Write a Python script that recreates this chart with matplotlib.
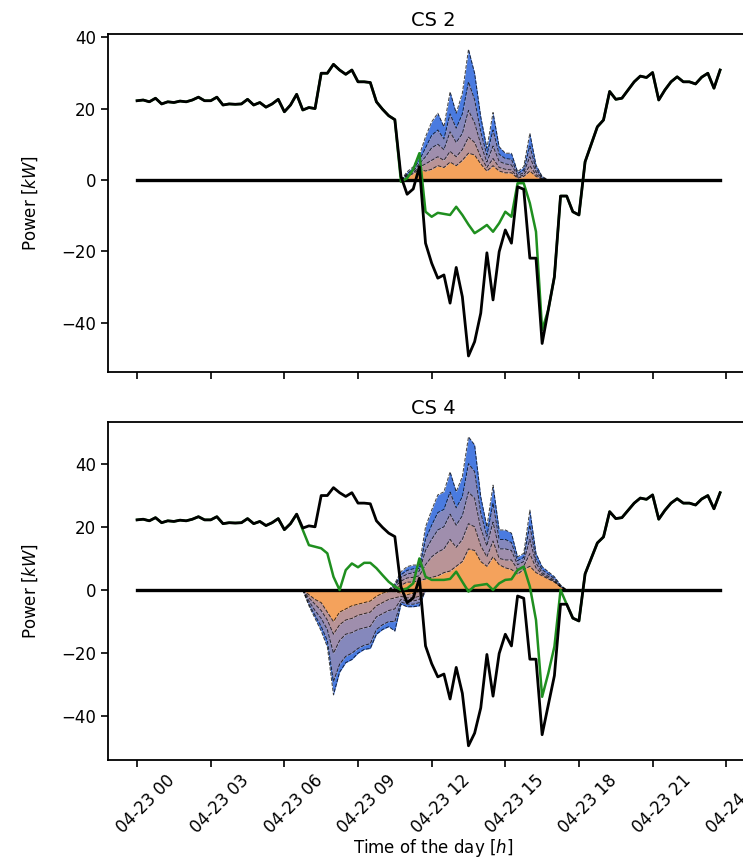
import numpy as np
import pandas as pd
import matplotlib
matplotlib.use('Agg')
import matplotlib.pyplot as plt
import matplotlib.dates as mdates
import matplotlib.transforms as mtransforms
from matplotlib.colors import LinearSegmentedColormap

# 15 min resolution, one day
times = pd.date_range('2019-04-23 00:00', periods=96, freq='15min')

# net load of the site [kW] (black)
net_load = [22.2, 22.4, 21.9, 22.9, 21.3, 21.9, 21.7, 22.1, 21.9, 22.4,
            23.2, 22.2, 22.2, 23.2, 21.0, 21.3, 21.2, 21.3, 22.6, 21.0,
            21.7, 20.4, 21.3, 22.6, 19.1, 21.0, 24.0, 19.6, 20.3, 20.0,
            29.9, 29.9, 32.4, 30.8, 29.6, 30.8, 27.5, 27.5, 27.3, 21.9,
            19.8, 18.0, 16.9, 1.0, -4.0, -2.5, 3.7, -17.7, -23.3, -27.5,
            -26.6, -34.5, -24.5, -32.7, -49.3, -45.3, -37.3, -20.4, -33.6, -20.1,
            -14.0, -17.7, -1.9, -2.6, -21.9, -21.9, -45.8, -36.4, -27.1, -4.5,
            -4.5, -8.9, -9.8, 5.1, 10.0, 14.9, 16.8, 24.8, 22.6, 22.9,
            25.2, 27.5, 29.1, 28.7, 30.1, 22.4, 25.2, 27.5, 28.9, 27.5,
            27.5, 26.9, 28.8, 29.9, 25.7, 30.8]

# net load with charging (green), only where it differs from the black one
cs2_green_start = 43
cs2_green = [-0.5, 0.5, 3.0, 7.5, -8.9, -10.3, -9.2, -9.5, -9.8, -7.5,
             -9.8, -12.5, -14.9, -13.8, -12.6, -14.5, -12.1, -8.9, -10.3, -0.9,
             -0.9, -6.5, -14.5, -42.0]
cs4_green_start = 27
cs4_green = [19.0, 14.2, 13.7, 13.2, 11.6, 4.2, 0.0, 6.3, 8.4, 7.2,
             8.6, 8.6, 6.9, 4.7, 2.6, 1.1, 0.0, 0.5, 2.1, 10.0,
             4.2, 3.2, 3.2, 3.2, 3.5, 5.8, 2.6, -0.5, 1.3, 1.6,
             1.9, 0.0, 2.1, 3.2, 3.4, 6.3, 7.4, 1.1, -9.5, -33.8,
             -26.4, -17.9, 0.0]

# charging power quantiles, median -> outer (q50, q65, q80, q90, q95)
cs2_pos_start = 43
cs2_q50 = [0, 1.0, 1.8, 3.0, 2.5, 3.0, 4.0, 3.5, 5.0, 4.0, 5.5, 7.5, 7.0, 4.5, 2.5, 4.0, 2.5, 2.0, 2.0, 0.5, 1.0, 2.5, 1.0, 0.2, 0]
cs2_q65 = [0, 1.2, 2.1, 3.6, 4.5, 5.5, 6.5, 5.5, 8.0, 6.5, 8.5, 12.0, 10.5, 6.5, 3.5, 6.0, 3.5, 3.0, 2.8, 0.8, 1.4, 4.0, 1.5, 0.3, 0]
cs2_q80 = [0, 1.5, 2.5, 4.5, 6.5, 9.0, 10.0, 8.5, 13.5, 10.5, 13.0, 19.5, 16.0, 10.0, 5.0, 9.5, 5.2, 4.5, 4.2, 1.3, 2.0, 6.5, 2.3, 0.5, 0]
cs2_q90 = [0, 1.8, 3.0, 5.5, 9.0, 12.5, 14.0, 11.5, 18.5, 14.5, 18.5, 27.5, 22.5, 13.5, 7.0, 14.0, 7.2, 6.0, 5.8, 1.8, 2.8, 9.5, 3.2, 0.7, 0]
cs2_q95 = [0, 2.3, 3.7, 7.0, 12.1, 16.3, 18.7, 14.9, 24.7, 18.7, 24.3, 36.6, 29.9, 17.7, 8.9, 18.9, 9.3, 7.5, 7.5, 2.3, 3.7, 13.1, 4.2, 1.0, 0]

cs4_pos_start = 41
cs4_q50 = [0, 0.5, 1.5, 2.5, 2.5, 3.0, 3.5, 4.0, 4.5, 5.5, 6.0, 7.5, 9.0, 13.0, 12.5, 9.0, 7.5, 10.5, 8.0, 7.0, 6.5, 5.0, 6.5, 7.5, 5.5, 4.5, 3.5, 2.5, 1.0, 0]
cs4_q65 = [0, 1.0, 2.8, 3.8, 4.0, 4.5, 8.0, 10.5, 12.0, 13.0, 16.0, 13.5, 16.0, 21.0, 20.0, 14.0, 10.5, 15.5, 10.0, 9.5, 9.5, 6.5, 7.5, 11.5, 7.0, 5.0, 3.8, 2.7, 1.0, 0]
cs4_q80 = [0, 1.4, 4.0, 5.0, 5.5, 6.0, 12.5, 16.0, 19.0, 20.0, 24.0, 20.5, 23.5, 31.0, 29.0, 19.5, 14.0, 21.5, 13.0, 13.0, 12.5, 8.0, 9.0, 16.0, 8.5, 5.5, 4.3, 3.0, 1.1, 0]
cs4_q90 = [0, 1.7, 4.8, 6.2, 6.7, 6.8, 16.0, 20.5, 24.5, 25.5, 31.0, 26.0, 29.5, 40.0, 37.5, 24.5, 17.0, 27.5, 16.0, 16.0, 15.0, 9.3, 10.3, 20.5, 9.8, 6.4, 5.0, 3.6, 1.3, 0]
cs4_q95 = [0, 2.1, 5.8, 7.4, 7.9, 7.9, 20.0, 25.3, 30.1, 31.1, 37.4, 31.1, 35.9, 48.5, 45.9, 29.5, 20.0, 33.2, 19.0, 19.0, 18.0, 10.5, 11.6, 25.3, 11.6, 7.4, 5.8, 4.2, 1.6, 0]

# discharging quantiles (negative side), median -> outer (q50, q35, q20, q10, q05)
cs4_neg_start = 27
cs4_n50 = [0, -1.5, -3, -4, -7, -10, -7, -6, -5, -4.5, -4, -3.5, -2, -1, -0.5, -0.5, -1, -1.5, -1, -0.5, 0]
cs4_n35 = [0, -2.5, -4.5, -6.5, -9.5, -14, -11, -9.5, -9, -8, -7.5, -7, -5, -4, -3, -2.5, -2, -2.5, -2.5, -2, 0]
cs4_n20 = [0, -3.5, -6.5, -9, -12.5, -20, -16, -14, -13.5, -12.5, -12, -11.5, -8.5, -7.5, -6.5, -6, -3, -3.5, -3.5, -3, 0]
cs4_n10 = [0, -4.5, -8, -11.5, -16, -29, -23.5, -21, -20, -18.5, -17.5, -17, -12.5, -11, -10, -10, -3.8, -4.5, -4.5, -4, 0]
cs4_n05 = [0, -5, -9, -13, -18, -33.2, -26, -23, -22, -20, -18.8, -18.5, -14, -12.5, -11.6, -13, -4.5, -5.3, -5.3, -5, 0]

fan_cmap = LinearSegmentedColormap.from_list('fan', ['#f4a25c', '#a590aa', '#9a8cb0', '#4a7be0'])

plt.rcParams['font.family'] = 'DejaVu Sans'
plt.rcParams['font.size'] = 12


def plot_fan(ax, start, curves):
	t = times[start:start + len(curves[0])]
	lower = np.zeros(len(t))
	n = len(curves)
	for k, c in enumerate(curves):
		c = np.array(c, dtype=float)
		ax.fill_between(t, lower, c, color=fan_cmap(k / (n - 1)), lw=0, zorder=1)
		ax.plot(t, c, color='k', ls='--', lw=0.7, alpha=0.75, zorder=2)
		lower = c


def green_line(start, seg):
	g = np.array(net_load, dtype=float)
	g[start:start + len(seg)] = seg
	return g


fig = plt.figure(figsize=(7.43, 8.60), dpi=100)
ax1 = fig.add_axes([0.1454, 0.5674, 0.875, 0.3931])
ax2 = fig.add_axes([0.1454, 0.1163, 0.875, 0.3931], sharex=ax1)

panels = [
	(ax1, 'CS 2', [(cs2_pos_start, [cs2_q50, cs2_q65, cs2_q80, cs2_q90, cs2_q95])],
	 green_line(cs2_green_start, cs2_green), (-53.8, 40.9)),
	(ax2, 'CS 4', [(cs4_neg_start, [cs4_n50, cs4_n35, cs4_n20, cs4_n10, cs4_n05]),
	               (cs4_pos_start, [cs4_q50, cs4_q65, cs4_q80, cs4_q90, cs4_q95])],
	 green_line(cs4_green_start, cs4_green), (-53.8, 53.2)),
]

for ax, title, fans, green, ylim in panels:
	for start, curves in fans:
		plot_fan(ax, start, curves)
	ax.plot(times, np.zeros(len(times)), color='k', lw=2.4, zorder=3)
	ax.plot(times, green, color='#1f8f1f', lw=1.8, zorder=4)
	ax.plot(times, net_load, color='k', lw=2.0, zorder=5)
	ax.set_title(title, fontsize=14)
	ax.set_ylabel('Power [$kW$]', labelpad=15)
	ax.set_ylim(*ylim)
	ax.set_yticks([-40, -20, 0, 20, 40])
	for sp in ax.spines.values():
		sp.set_linewidth(1.3)
	ax.tick_params(length=5, width=1.2, labelsize=12)

ax1.set_xlim(times[0] - pd.Timedelta(minutes=71), times[-1] + pd.Timedelta(minutes=93))
ax2.xaxis.set_major_locator(mdates.HourLocator(byhour=range(0, 24, 3)))
ax2.xaxis.set_major_formatter(mdates.DateFormatter('%m-%d %H'))
plt.setp(ax1.get_xticklabels(), visible=False)
shift = mtransforms.ScaledTranslation(0.09, 0, fig.dpi_scale_trans)
for lab in ax2.get_xticklabels():
	lab.set_rotation(45)
	lab.set_transform(lab.get_transform() + shift)
ax2.set_xlabel('Time of the day [$h$]', labelpad=0)

fig.savefig('out.png', dpi=100)
